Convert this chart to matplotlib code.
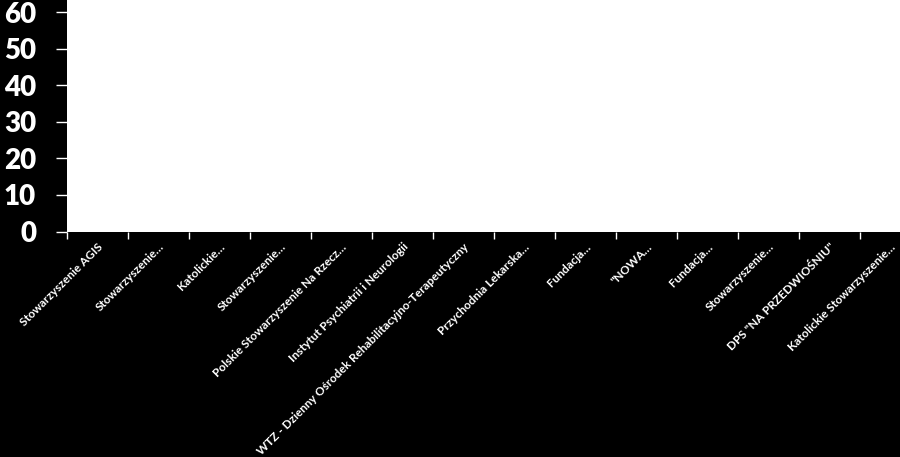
import numpy as np
import matplotlib
matplotlib.use('Agg')
from matplotlib import pyplot as plt

categories = [
    'Stowarzyszenie AGIS',
    'Stowarzyszenie…',
    'Katolickie…',
    'Stowarzyszenie…',
    'Polskie Stowarzyszenie Na Rzecz…',
    'Instytut Psychiatrii i Neurologii',
    'WTZ - Dzienny Ośrodek Rehabilitacyjno-Terapeutyczny',
    'Przychodnia Lekarska…',
    'Fundacja…',
    '"NOWA…',
    'Fundacja…',
    'Stowarzyszenie…',
    'DPS "NA PRZEDWIOŚNIU"',
    'Katolickie Stowarzyszenie…',
]
values = [0] * len(categories)
yticks = [0, 10, 20, 30, 40, 50, 60]

plt.rcParams['font.family'] = ['Lato', 'DejaVu Sans']

fig = plt.figure(figsize=(9, 4.57), dpi=100, facecolor='black')
# plot area runs past the right and top edge of the picture
ax = fig.add_axes([66.7 / 900, 1 - 231.5 / 457, 854 / 900, 231.5 / 457])
ax.set_facecolor('white')

x = np.arange(len(categories))
ax.bar(x, values, width=0.6, color='#4f81bd')

ax.set_xlim(-0.5, len(categories) - 0.5)
ax.set_ylim(0, 63.3)
ax.set_yticks(yticks)
ax.set_yticklabels([str(t) for t in yticks], fontsize=20, fontweight='heavy', color='white')
ax.tick_params(axis='y', colors='white', length=8, width=1, pad=14)

# ticks sit on the category boundaries, labels on the centres
ax.set_xticks(np.arange(len(categories) + 1) - 0.5)
ax.set_xticklabels([])
ax.set_xticks(x, minor=True)
ax.set_xticklabels(categories, minor=True, rotation=45, ha='right',
                   rotation_mode='anchor', fontsize=8.5, fontweight='bold', color='white')
ax.tick_params(axis='x', which='major', colors='white', length=5, width=1)
ax.tick_params(axis='x', which='minor', length=0, pad=7)

for s in ax.spines.values():
    s.set_visible(False)

fig.savefig('out.png', dpi=100, facecolor='black')
